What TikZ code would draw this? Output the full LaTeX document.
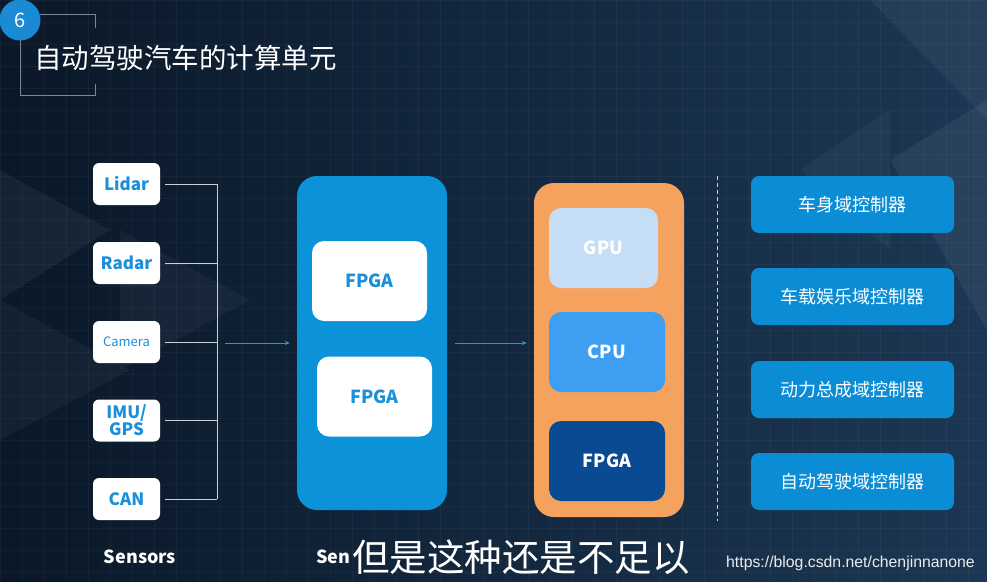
\documentclass[tikz,border=0pt]{standalone}
\usepackage{fontspec}
\setmainfont{Noto Sans CJK SC}
\newfontfamily\urlfont{Liberation Sans}
\usetikzlibrary{arrows.meta,calc}
\definecolor{bgA}{HTML}{0A1828}
\definecolor{bgB}{HTML}{1C3754}
\definecolor{sblue}{HTML}{1B8FD9}
\definecolor{bigblue}{HTML}{0C92D9}
\definecolor{orng}{HTML}{F5A25E}
\definecolor{gpuc}{HTML}{C6DDF6}
\definecolor{cpuc}{HTML}{3E9EF2}
\definecolor{fpgad}{HTML}{0A4A92}
\definecolor{ctrlc}{HTML}{0B8DD6}
\definecolor{linec}{HTML}{C8D0DA}
\definecolor{arrc}{HTML}{3A8FD0}
\definecolor{circc}{HTML}{1A8AD4}
\tikzset{
  sensorbox/.style={fill=white, rounded corners=6pt, minimum width=67pt, minimum height=42pt, text=sblue, font=\bfseries\fontsize{17}{18}\selectfont, align=center, inner sep=0pt},
  fpgabox/.style={fill=white, rounded corners=12pt, minimum width=115pt, minimum height=80pt, text=sblue, font=\bfseries\fontsize{18}{20}\selectfont, inner sep=0pt},
  chipbox/.style={rounded corners=12pt, minimum height=80pt, text=white, font=\bfseries\fontsize{18}{20}\selectfont, inner sep=0pt},
  ctrlbox/.style={fill=ctrlc, rounded corners=8pt, minimum width=203pt, minimum height=57pt, text=white, font=\fontsize{18}{20}\selectfont, inner sep=0pt},
  conn/.style={draw=linec, line width=0.9pt},
  arr/.style={draw=arrc, line width=0.8pt, -{Stealth[length=5pt,width=4pt]}},
}
\begin{document}
\begin{tikzpicture}[x=1pt,y=-1pt]
\useasboundingbox (0,0) rectangle (987,581);
% background
\shade[left color=bgA, right color=bgB] (0,0) rectangle (987,581);
\fill[white, opacity=0.05] (0,170) -- (110,230) -- (0,300) -- cycle;
\fill[white, opacity=0.04] (0,300) -- (130,370) -- (0,440) -- cycle;
\fill[white, opacity=0.04] (120,230) -- (250,300) -- (120,370) -- cycle;
\fill[white, opacity=0.05] (870,0) -- (987,0) -- (987,120) -- cycle;
\fill[white, opacity=0.06] (890,160) -- (987,100) -- (987,330) -- cycle;
\fill[white, opacity=0.04] (800,170) -- (890,110) -- (890,250) -- cycle;
\foreach \gx in {0,22,...,987} \draw[white, opacity=0.035, line width=0.5pt] (\gx,0) -- (\gx,581);
\foreach \gy in {0,22,...,581} \draw[white, opacity=0.035, line width=0.5pt] (0,\gy) -- (987,\gy);
% title frame
\draw[linec, opacity=0.6, line width=0.8pt] (40,14) -- (95,14) -- (95,28);
\draw[linec, opacity=0.6, line width=0.8pt] (95,84) -- (95,95) -- (20,95) -- (20,40);
\node[circle, fill=circc, minimum size=41pt, inner sep=0pt, text=white, font=\fontsize{20}{22}\selectfont] (num) at (20,20) {6};
\node[anchor=west, text=white, font=\fontsize{27.5}{29}\selectfont, inner sep=0pt] (title) at (34,58) {自动驾驶汽车的计算单元};
% sensors
\node[sensorbox] (lidar) at (126.5,184) {Lidar};
\node[sensorbox] (radar) at (126.5,263) {Radar};
\node[sensorbox, font=\fontsize{13}{14}\selectfont] (camera) at (126.5,342) {Camera};
\node[sensorbox, font=\bfseries\fontsize{17}{17}\selectfont] (imu) at (126.5,420.5) {IMU/\\GPS};
\node[sensorbox] (can) at (126.5,499) {CAN};
\coordinate (bus) at (217,343);
\foreach \s in {lidar,radar,camera,imu,can}
  \draw[conn, shorten <=5pt] (\s.east) -- (\s.east -| bus);
\draw[conn] (lidar.east -| bus) -- (can.east -| bus);
% blue block
\node[fill=bigblue, rounded corners=20pt, minimum width=150pt, minimum height=334pt, inner sep=0pt] (blue) at (372,343) {};
\node[fpgabox] (f1) at (369.5,281) {FPGA};
\node[fpgabox] (f2) at (374.5,396.5) {FPGA};
\coordinate (a1) at (225,343);
\draw[arr, shorten >=7pt] (a1) -- (blue.west);
% orange block
\node[fill=orng, rounded corners=20pt, minimum width=150pt, minimum height=334pt, inner sep=0pt] (orange) at (609,350) {};
\node[chipbox, fill=gpuc, minimum width=109pt] (gpu) at (603.5,248) {GPU};
\node[chipbox, fill=cpuc, minimum width=116pt] (cpu) at (607,352) {CPU};
\node[chipbox, fill=fpgad, minimum width=116pt] (fpga3) at (607,461) {FPGA};
\draw[arr, shorten <=8pt, shorten >=7pt] (blue.east) -- (blue.east -| orange.west);
% divider
\coordinate (d1) at (717,176);
\coordinate (d2) at (717,521);
\draw[linec, line width=0.9pt, dash pattern=on 4pt off 3pt] (d1) -- (d2);
% controllers
\node[ctrlbox] (c1) at (852.5,204.5) {车身域控制器};
\node[ctrlbox] (c2) at (852.5,296.5) {车载娱乐域控制器};
\node[ctrlbox] (c3) at (852.5,389.5) {动力总成域控制器};
\node[ctrlbox] (c4) at (852.5,481.5) {自动驾驶域控制器};
% bottom labels
\node[text=white, font=\bfseries\fontsize{18}{20}\selectfont, inner sep=0pt] (lbl1) at (140,557) {Sensors};
\node[anchor=west, text=white, font=\bfseries\fontsize{18}{20}\selectfont, inner sep=0pt] (lbl2) at (316,557) {Sen};
\node[anchor=west, text=white, font=\fontsize{37.5}{39}\selectfont, inner sep=0pt] (sub) at (352,557) {但是这种还是不足以};
\node[anchor=west, text=white!85!gray, font=\urlfont\fontsize{15.8}{17}\selectfont, inner sep=0pt] (url) at (726,563) {https://blog.csdn.net/chenjinnanone};
\end{tikzpicture}
\end{document}
